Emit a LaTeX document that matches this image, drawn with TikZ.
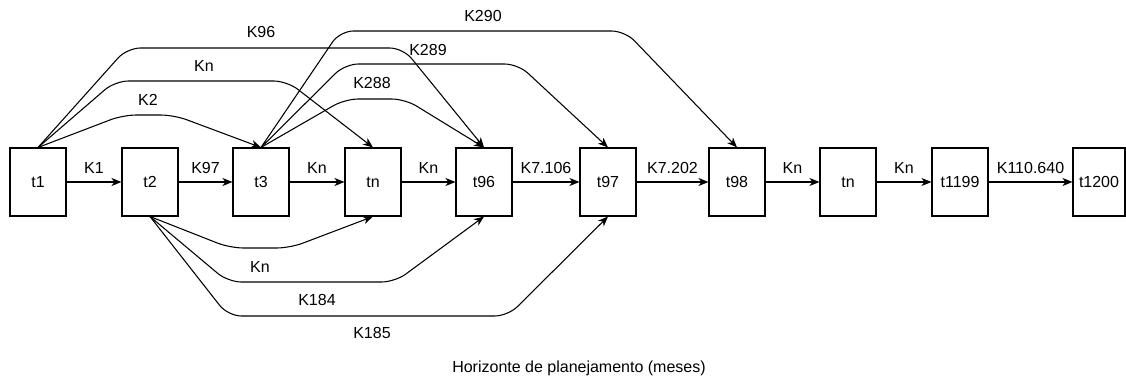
\documentclass[tikz,border=0pt]{standalone}
\usepackage{fontspec}
\setmainfont{Liberation Sans}
\usetikzlibrary{arrows.meta}

\tikzset{
  period/.style={draw, line width=0.8pt, minimum width=42pt, minimum height=51pt, inner sep=0pt, font=\fontsize{12}{14}\selectfont},
  link/.style={line width=0.8pt, -{Stealth[length=7.5pt, width=6pt, inset=2.2pt]}, rounded corners=10pt},
  klabel/.style={font=\fontsize{12}{14}\selectfont, inner sep=1pt},
}

\begin{document}
\begin{tikzpicture}[x=0.75pt, y=-0.75pt]
    \useasboundingbox (0,0) rectangle (1126,381);

    % Periods
    \node[period] (t1) at (38,182) {t1};
    \node[period] (t2) at (150,182) {t2};
    \node[period] (t3) at (261,182) {t3};
    \node[period] (tn1) at (373,182) {tn};
    \node[period] (t96) at (484,182) {t96};
    \node[period] (t97) at (608,182) {t97};
    \node[period] (t98) at (737,182) {t98};
    \node[period] (tn2) at (848,182) {tn};
    \node[period] (t1199) at (960,182) {t1199};
    \node[period, minimum width=39pt] (t1200) at (1099,182) {t1200};

    % Consecutive periods
    \draw[link] (t1) -- node[klabel, above=5pt] {K1} (t2);
    \draw[link] (t2) -- node[klabel, above=5pt] {K97} (t3);
    \draw[link] (t3) -- node[klabel, above=5pt] {Kn} (tn1);
    \draw[link] (tn1) -- node[klabel, above=5pt] {Kn} (t96);
    \draw[link] (t96) -- node[klabel, above=5pt] {K7.106} (t97);
    \draw[link] (t97) -- node[klabel, above=5pt] {K7.202} (t98);
    \draw[link] (t98) -- node[klabel, above=5pt] {Kn} (tn2);
    \draw[link] (tn2) -- node[klabel, above=5pt] {Kn} (t1199);
    \draw[link] (t1199) -- node[klabel, above=5pt] {K110.640} (t1200);

    % Jumps above
    \draw[link] (t1.north) -- (123,115) -- (174,115) -- (t3.north);
    \draw[link] (t1.north) -- (115,81) -- (287,81) -- (tn1.north);
    \draw[link] (t1.north) -- (127,48) -- (403,48) -- (t96.north);
    \draw[link] (t3.north) -- (345,99) -- (405,99) -- (t96.north);
    \draw[link] (t3.north) -- (345,64) -- (518,64) -- (t97.north);
    \draw[link] (t3.north) -- (340,31) -- (625,31) -- (t98.north);
    \node[klabel] (k2) at (148,100) {K2};
    \node[klabel] (kn1) at (204,66) {Kn};
    \node[klabel] (k96) at (261,32) {K96};
    \node[klabel] (k288) at (372,83) {K288};
    \node[klabel] (k289) at (428,50) {K289};
    \node[klabel] (k290) at (483,16) {K290};

    % Jumps below
    \draw[link] (t2.south) -- (230,248) -- (290,248) -- (tn1.south);
    \draw[link] (t2.south) -- (228,282) -- (395,282) -- (t96.south);
    \draw[link] (t2.south) -- (228,316) -- (508,316) -- (t97.south);
    \node[klabel] (kn2) at (260,267) {Kn};
    \node[klabel] (k184) at (317,300) {K184};
    \node[klabel] (k185) at (372,333) {K185};

    % Caption
    \node[klabel] (caption) at (579,368) {Horizonte de planejamento (meses)};
\end{tikzpicture}
\end{document}
